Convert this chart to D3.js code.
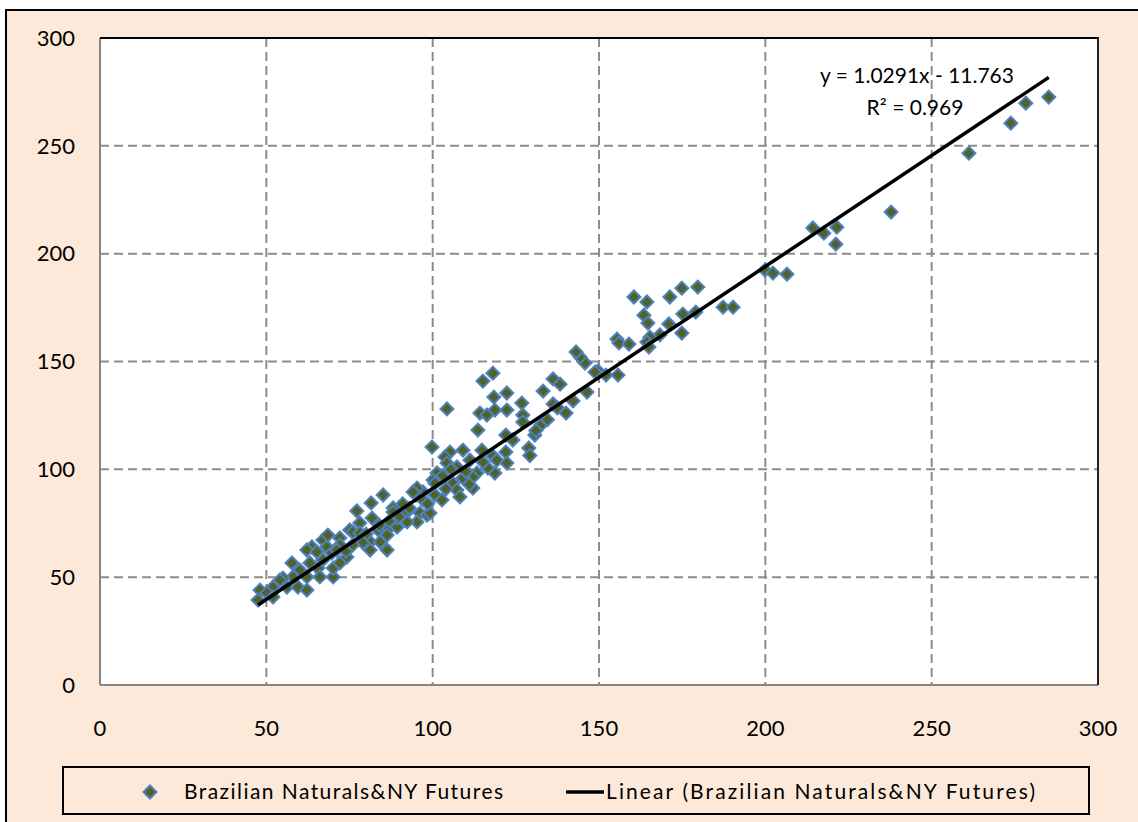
<!DOCTYPE html>
<html><head><meta charset="utf-8">
<script src="https://cdn.jsdelivr.net/npm/d3@7"></script>
<style>body{margin:0;background:#fff}svg{display:block}text{font-family:Lato,"Liberation Sans",sans-serif;fill:#000}</style>
</head><body><svg id="c" width="1138" height="822"></svg>
<script>
const xValues=[285.2,278.3,273.8,261.2,237.8,214.3,217.6,221.5,221.2,199.9,202.3,206.5,179.7,174.9,179.1,175.2,187.3,190.3,174.9,
160.5,164.4,171.3,163.5,164.7,171.0,168.3,165.3,164.4,165.0,155.4,156.0,159.0,
145.8,144.3,143.1,149.7,152.1,155.7,148.8,146.4,142.2,140.1,136.2,
118.1,115.1,136.2,138.3,133.2,118.4,122.3,126.8,104.3,114.2,118.7,122.3,116.3,127.1,127.1,113.6,99.8,122.0,124.1,128.9,130.7,
122.0,118.1,118.7,114.8,109.1,105.2,103.7,111.2,107.3,104.3,101.3,100.1,113.3,112.1,109.1,106.1,107.3,112.1,100.7,102.8,97.1,95.3,95.0,85.1,88.1,116.6,115.1,119.3,108.2,129.2,122.3,
132.5,134.5,131.0,137.5,
81.5,77.2,94.1,97.1,100.7,88.1,92.3,96.2,98.3,95.3,92.3,78.1,81.8,86.3,89.3,83.6,81.2,81.2,84.2,86.3,75.1,72.1,67.0,63.7,62.2,65.2,68.2,69.7,72.1,74.2,67.0,65.5,63.1,57.7,60.1,62.2,66.1,70.1,58.0,55.0,54.1,52.0,56.2,59.5,62.2,48.1,50.2,47.5,52.0,76.0,78.1,68.5,71.2,70.1,72.1,89.3,86.3,99.2,
105.5,103.0,110.0,111.0,104.0,98.5,93.0,90.0,87.0,91.0,84.0,80.0,79.0,76.0,74.0];
const yValues=[272.6,269.8,260.5,246.6,219.3,211.9,209.5,212.3,204.4,192.4,191.0,190.5,184.5,184.0,172.9,172.0,175.2,175.2,163.2,
179.9,177.6,179.9,171.5,167.8,167.4,162.3,161.3,159.0,156.7,160.4,158.6,158.1,
149.3,152.1,154.4,145.6,143.7,143.7,145.1,135.8,131.7,126.1,130.3,
144.6,140.9,141.9,139.5,136.3,133.5,135.4,130.7,128.0,126.1,127.5,127.5,125.2,125.2,121.9,118.2,110.3,115.9,113.6,109.9,115.9,
108.0,106.2,98.3,108.9,108.9,108.0,105.7,104.3,101.1,102.9,98.3,95.0,98.3,96.4,96.0,93.6,90.4,91.3,88.1,85.8,89.5,91.3,88.1,88.1,82.1,100.6,103.4,104.3,87.2,106.4,102.9,
120.5,123.0,118.0,128.5,
84.4,80.7,89.5,85.8,93.6,80.2,80.2,79.7,78.8,75.6,75.6,75.1,77.4,71.9,73.2,71.9,66.3,62.6,66.3,69.5,71.9,68.2,67.2,64.0,62.6,61.7,64.0,61.2,64.9,59.3,58.0,54.2,56.6,56.6,53.3,50.1,50.1,50.1,50.1,49.6,48.7,45.4,45.4,45.4,44.0,44.0,42.7,39.4,40.8,70.9,70.5,69.5,62.6,54.2,56.6,77.4,62.6,79.7,
100.0,97.0,99.0,93.0,91.0,84.0,82.0,78.0,76.0,84.0,74.0,70.0,66.0,65.0,62.0];
const xTicks=[0,50,100,150,200,250,300];
const yTicks=[0,50,100,150,200,250,300];
const slope=1.0291, intercept=-11.763;
const eqText="y = 1.0291x - 11.763";
const r2Text="R² = 0.969";
const seriesName="Brazilian Naturals&NY Futures";
const trendName="Linear (Brazilian Naturals&NY Futures)";

const svg=d3.select("#c");
const L=100,T=38,R=1098,B=685;
const x=d3.scaleLinear().domain([0,300]).range([L,R]);
const y=d3.scaleLinear().domain([0,300]).range([B,T]);

svg.append("rect").attr("x",6).attr("y",10).attr("width",1140).attr("height",820).attr("fill","#fde9d9").attr("stroke","#000").attr("stroke-width",2);
svg.append("rect").attr("x",L).attr("y",T).attr("width",R-L).attr("height",B-T).attr("fill","#fff");

const grid=svg.append("g").attr("stroke","#8c8c8c").attr("stroke-width",2).attr("stroke-dasharray","9,5");
xTicks.filter(d=>d>0&&d<300).forEach(d=>grid.append("line").attr("x1",x(d)).attr("x2",x(d)).attr("y1",T).attr("y2",B));
yTicks.filter(d=>d>0&&d<300).forEach(d=>grid.append("line").attr("y1",y(d)).attr("y2",y(d)).attr("x1",L).attr("x2",R));

svg.append("line").attr("x1",L).attr("x2",L).attr("y1",T).attr("y2",B).attr("stroke","#868686").attr("stroke-width",2);
svg.append("line").attr("x1",L).attr("x2",R).attr("y1",B).attr("y2",B).attr("stroke","#868686").attr("stroke-width",2);
svg.append("line").attr("x1",L).attr("x2",R+1).attr("y1",T).attr("y2",T).attr("stroke","#000").attr("stroke-width",2);
svg.append("line").attr("x1",R).attr("x2",R).attr("y1",T).attr("y2",B).attr("stroke","#222").attr("stroke-width",2);

svg.append("g").selectAll("text").data(yTicks).join("text").attr("x",75).attr("y",d=>y(d)).attr("dy","0.35em").attr("text-anchor","end").attr("font-size",22).text(d=>d);
svg.append("g").selectAll("text").data(xTicks).join("text").attr("x",d=>x(d)).attr("y",728).attr("dy","0.35em").attr("text-anchor","middle").attr("font-size",22).text(d=>d);

const pts=xValues.map((v,i)=>[v,yValues[i]]);
const sym=d3.symbol().type(d3.symbolSquare).size(84);
svg.append("g").selectAll("path").data(pts).join("path")
 .attr("d",sym).attr("transform",d=>`translate(${x(d[0])},${y(d[1])}) rotate(45)`)
 .attr("fill","#4f6228").attr("stroke","#4f81bd").attr("stroke-width",2);

const xmin=d3.min(xValues), xmax=d3.max(xValues);
svg.append("line").attr("x1",x(xmin)).attr("y1",y(slope*xmin+intercept)).attr("x2",x(xmax)).attr("y2",y(slope*xmax+intercept))
 .attr("stroke","#000").attr("stroke-width",3.5);

svg.append("text").attr("x",917).attr("y",76).attr("dy","0.35em").attr("text-anchor","middle").attr("font-size",21).text(eqText);
svg.append("text").attr("x",915).attr("y",108).attr("dy","0.35em").attr("text-anchor","middle").attr("font-size",21).text(r2Text);

svg.append("rect").attr("x",63).attr("y",767).attr("width",1026).attr("height",47).attr("fill","none").attr("stroke","#000").attr("stroke-width",2);
svg.append("path").attr("d",sym).attr("transform","translate(150,792) rotate(45)").attr("fill","#4f6228").attr("stroke","#4f81bd").attr("stroke-width",2);
svg.append("text").attr("x",184).attr("y",792).attr("dy","0.35em").attr("font-size",21).attr("textLength",319).attr("lengthAdjust","spacing").text(seriesName);
svg.append("line").attr("x1",566).attr("x2",604).attr("y1",792).attr("y2",792).attr("stroke","#000").attr("stroke-width",3.5);
svg.append("text").attr("x",606).attr("y",792).attr("dy","0.35em").attr("font-size",21).attr("textLength",429).attr("lengthAdjust","spacing").text(trendName);
</script></body></html>
